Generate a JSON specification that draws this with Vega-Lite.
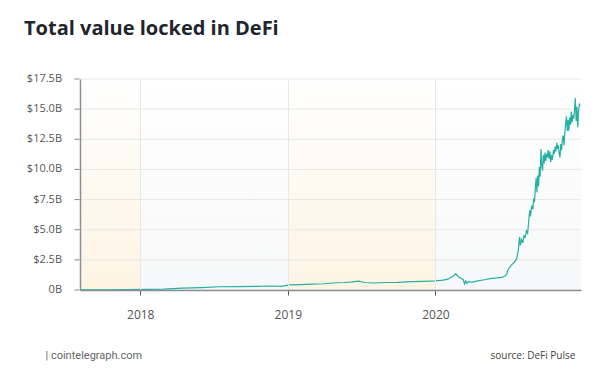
{
  "$schema": "https://vega.github.io/schema/vega-lite/v6.json",
  "width": 501,
  "height": 211,
  "autosize": "none",
  "padding": {"left": 80, "top": 79, "right": 19, "bottom": 93},
  "background": "#ffffff",
  "config": {
    "view": {"stroke": null},
    "font": "Open Sans"
  },
  "title": {
    "text": "Total value locked in DeFi",
    "anchor": "start",
    "frame": "group",
    "dx": -56,
    "offset": 34,
    "fontSize": 20,
    "fontWeight": "bold",
    "font": "Open Sans",
    "color": "#1f262d"
  },
  "datasets": {
    "bands": [
      {"start": "2017-08-05", "end": "2018-01-01", "kind": "cream"},
      {"start": "2018-01-01", "end": "2019-01-01", "kind": "grey"},
      {"start": "2019-01-01", "end": "2020-01-01", "kind": "cream"},
      {"start": "2020-01-01", "end": "2020-12-26", "kind": "grey"}
    ],
    "yticks": [
      {"v": 0, "label": "0B"},
      {"v": 2.5, "label": "$2.5B"},
      {"v": 5, "label": "$5.0B"},
      {"v": 7.5, "label": "$7.5B"},
      {"v": 10, "label": "$10.0B"},
      {"v": 12.5, "label": "$12.5B"},
      {"v": 15, "label": "$15.0B"},
      {"v": 17.5, "label": "$17.5B"}
    ],
    "tvl": [
      {"date": "2017-08-05", "value": 0.01},
      {"date": "2017-10-01", "value": 0.02},
      {"date": "2017-12-01", "value": 0.03},
      {"date": "2018-01-15", "value": 0.05},
      {"date": "2018-03-01", "value": 0.08},
      {"date": "2018-04-15", "value": 0.15},
      {"date": "2018-06-01", "value": 0.2},
      {"date": "2018-07-15", "value": 0.27},
      {"date": "2018-09-01", "value": 0.28},
      {"date": "2018-10-15", "value": 0.3},
      {"date": "2018-11-20", "value": 0.33},
      {"date": "2018-12-15", "value": 0.3},
      {"date": "2019-01-05", "value": 0.42},
      {"date": "2019-02-01", "value": 0.45},
      {"date": "2019-03-01", "value": 0.48},
      {"date": "2019-04-01", "value": 0.52},
      {"date": "2019-05-01", "value": 0.6},
      {"date": "2019-05-20", "value": 0.62},
      {"date": "2019-06-10", "value": 0.68},
      {"date": "2019-06-25", "value": 0.74},
      {"date": "2019-07-10", "value": 0.62},
      {"date": "2019-08-01", "value": 0.58},
      {"date": "2019-09-01", "value": 0.62},
      {"date": "2019-10-01", "value": 0.64},
      {"date": "2019-11-01", "value": 0.7},
      {"date": "2019-12-01", "value": 0.72},
      {"date": "2020-01-01", "value": 0.75},
      {"date": "2020-01-20", "value": 0.82},
      {"date": "2020-02-01", "value": 0.9},
      {"date": "2020-02-14", "value": 1.15},
      {"date": "2020-02-20", "value": 1.35},
      {"date": "2020-02-27", "value": 1.1},
      {"date": "2020-03-05", "value": 0.95},
      {"date": "2020-03-10", "value": 0.85},
      {"date": "2020-03-13", "value": 0.5},
      {"date": "2020-03-16", "value": 0.75},
      {"date": "2020-03-19", "value": 0.55},
      {"date": "2020-03-23", "value": 0.7},
      {"date": "2020-04-01", "value": 0.65},
      {"date": "2020-04-15", "value": 0.75},
      {"date": "2020-05-01", "value": 0.85},
      {"date": "2020-05-15", "value": 0.95},
      {"date": "2020-06-01", "value": 1.0},
      {"date": "2020-06-14", "value": 1.05},
      {"date": "2020-06-21", "value": 1.16},
      {"date": "2020-06-25", "value": 1.3},
      {"date": "2020-06-28", "value": 1.66},
      {"date": "2020-07-03", "value": 1.9},
      {"date": "2020-07-08", "value": 2.1},
      {"date": "2020-07-14", "value": 2.3},
      {"date": "2020-07-20", "value": 2.6},
      {"date": "2020-07-24", "value": 3.3},
      {"date": "2020-07-27", "value": 4.4},
      {"date": "2020-07-29", "value": 3.7},
      {"date": "2020-08-01", "value": 4.2},
      {"date": "2020-08-04", "value": 3.9},
      {"date": "2020-08-07", "value": 4.5},
      {"date": "2020-08-10", "value": 4.4},
      {"date": "2020-08-13", "value": 4.9},
      {"date": "2020-08-16", "value": 4.7},
      {"date": "2020-08-19", "value": 5.8},
      {"date": "2020-08-21", "value": 6.6},
      {"date": "2020-08-23", "value": 6.1},
      {"date": "2020-08-26", "value": 7.0},
      {"date": "2020-08-29", "value": 6.7},
      {"date": "2020-08-31", "value": 7.6},
      {"date": "2020-09-02", "value": 7.3},
      {"date": "2020-09-04", "value": 8.4},
      {"date": "2020-09-06", "value": 9.3},
      {"date": "2020-09-08", "value": 8.1},
      {"date": "2020-09-10", "value": 9.5},
      {"date": "2020-09-12", "value": 8.6},
      {"date": "2020-09-14", "value": 10.2},
      {"date": "2020-09-16", "value": 9.4},
      {"date": "2020-09-18", "value": 11.7},
      {"date": "2020-09-20", "value": 10.3},
      {"date": "2020-09-22", "value": 9.9},
      {"date": "2020-09-24", "value": 11.2},
      {"date": "2020-09-26", "value": 10.5},
      {"date": "2020-09-28", "value": 11.4},
      {"date": "2020-09-30", "value": 10.7},
      {"date": "2020-10-02", "value": 11.3},
      {"date": "2020-10-04", "value": 11.0},
      {"date": "2020-10-06", "value": 11.6},
      {"date": "2020-10-08", "value": 10.9},
      {"date": "2020-10-10", "value": 11.5},
      {"date": "2020-10-12", "value": 10.6},
      {"date": "2020-10-14", "value": 11.2},
      {"date": "2020-10-16", "value": 10.8},
      {"date": "2020-10-19", "value": 11.6},
      {"date": "2020-10-21", "value": 11.3},
      {"date": "2020-10-23", "value": 11.9},
      {"date": "2020-10-25", "value": 11.5},
      {"date": "2020-10-27", "value": 12.2},
      {"date": "2020-10-29", "value": 11.7},
      {"date": "2020-10-31", "value": 12.0},
      {"date": "2020-11-02", "value": 11.3},
      {"date": "2020-11-04", "value": 11.0},
      {"date": "2020-11-06", "value": 12.1},
      {"date": "2020-11-08", "value": 11.6},
      {"date": "2020-11-10", "value": 12.5},
      {"date": "2020-11-12", "value": 12.8},
      {"date": "2020-11-14", "value": 12.0},
      {"date": "2020-11-16", "value": 13.1},
      {"date": "2020-11-18", "value": 13.8},
      {"date": "2020-11-20", "value": 14.4},
      {"date": "2020-11-22", "value": 13.2},
      {"date": "2020-11-24", "value": 14.1},
      {"date": "2020-11-26", "value": 13.2},
      {"date": "2020-11-28", "value": 14.3},
      {"date": "2020-11-30", "value": 13.7},
      {"date": "2020-12-02", "value": 14.8},
      {"date": "2020-12-04", "value": 13.9},
      {"date": "2020-12-06", "value": 14.5},
      {"date": "2020-12-08", "value": 14.2},
      {"date": "2020-12-10", "value": 15.0},
      {"date": "2020-12-12", "value": 15.9},
      {"date": "2020-12-14", "value": 14.0},
      {"date": "2020-12-16", "value": 15.2},
      {"date": "2020-12-18", "value": 13.5},
      {"date": "2020-12-20", "value": 14.8},
      {"date": "2020-12-22", "value": 15.4},
      {"date": "2020-12-24", "value": 15.3}
    ]
  },
  "layer": [
    {
      "data": {"name": "bands"},
      "transform": [{"filter": "datum.kind === 'cream'"}],
      "mark": {
        "type": "rect",
        "fill": {
          "gradient": "linear",
          "x1": 0, "y1": 1, "x2": 0, "y2": 0,
          "stops": [
            {"offset": 0, "color": "#fdf4e3"},
            {"offset": 1, "color": "#ffffff"}
          ]
        }
      },
      "encoding": {
        "x": {
          "field": "start",
          "type": "temporal",
          "scale": {"type": "utc", "domain": ["2017-08-05", "2020-12-26"]},
          "axis": {
            "format": "%Y",
            "formatType": "utc",
            "tickCount": {"interval": "year", "step": 1},
            "zindex": 1,
            "grid": true,
            "gridColor": "#e8e8e8",
            "gridWidth": 1,
            "domainColor": "#8a8f94",
            "domainWidth": 1.5,
            "tickColor": "#555555",
            "tickSize": 5,
            "labelFontSize": 12,
            "labelColor": "#555555",
            "labelFont": "Open Sans",
            "labelPadding": 14,
            "title": "|   cointelegraph.com",
            "titleX": -35,
            "titleY": 65,
            "titleAlign": "left",
            "titleAnchor": null,
            "titleBaseline": "middle",
            "titleFontSize": 11,
            "titleFontWeight": "normal",
            "titleColor": "#666666",
            "titleFont": "Roboto"
          }
        },
        "x2": {"field": "end"},
        "y": {
          "datum": 0,
          "type": "quantitative",
          "scale": {"domain": [0, 17.5], "nice": false},
          "axis": {
            "labels": false,
            "ticks": false,
            "grid": false,
            "zindex": 1,
            "domainColor": "#8a8f94",
            "domainWidth": 1.5,
            "title": "source: DeFi Pulse",
            "titleAngle": 0,
            "titleX": 410,
            "titleY": 276,
            "titleAlign": "left",
            "titleAnchor": null,
            "titleBaseline": "middle",
            "titleFontSize": 10,
            "titleFontWeight": "normal",
            "titleColor": "#444444",
            "titleFont": "Open Sans"
          }
        },
        "y2": {"datum": 17.5}
      }
    },
    {
      "data": {"name": "bands"},
      "transform": [{"filter": "datum.kind === 'grey'"}],
      "mark": {
        "type": "rect",
        "fill": {
          "gradient": "linear",
          "x1": 0, "y1": 1, "x2": 0, "y2": 0,
          "stops": [
            {"offset": 0, "color": "#f7f8f9"},
            {"offset": 1, "color": "#ffffff"}
          ]
        }
      },
      "encoding": {
        "x": {"field": "start", "type": "temporal"},
        "x2": {"field": "end"},
        "y": {"datum": 0, "type": "quantitative"},
        "y2": {"datum": 17.5}
      }
    },
    {
      "data": {"name": "yticks"},
      "mark": {"type": "rule", "color": "#e8e8e8", "strokeWidth": 1},
      "encoding": {
        "y": {"field": "v", "type": "quantitative"}
      }
    },
    {
      "data": {"name": "tvl"},
      "mark": {"type": "line", "color": "#25b0a4", "strokeWidth": 1.2, "interpolate": "linear"},
      "encoding": {
        "x": {"field": "date", "type": "temporal"},
        "y": {"field": "value", "type": "quantitative"}
      }
    },
    {
      "data": {"name": "yticks"},
      "mark": {"type": "tick", "orient": "horizontal", "size": 5, "thickness": 1, "color": "#555555", "xOffset": -3},
      "encoding": {
        "x": {"datum": {"year": 2017, "month": 8, "date": 5, "utc": true}, "type": "temporal"},
        "y": {"field": "v", "type": "quantitative"}
      }
    },
    {
      "data": {"name": "yticks"},
      "mark": {"type": "text", "align": "right", "baseline": "middle", "dx": -18, "fontSize": 11, "font": "Open Sans", "color": "#555555"},
      "encoding": {
        "x": {"datum": {"year": 2017, "month": 8, "date": 5, "utc": true}, "type": "temporal"},
        "y": {"field": "v", "type": "quantitative"},
        "text": {"field": "label"}
      }
    }
  ]
}
